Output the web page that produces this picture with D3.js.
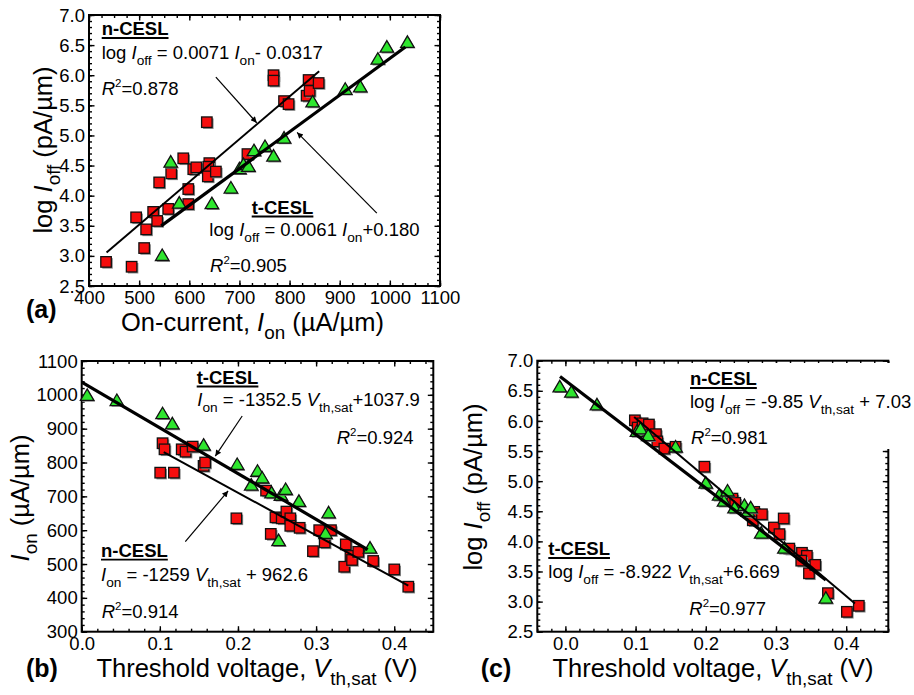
<!DOCTYPE html>
<html>
<head>
<meta charset="utf-8">
<script src="https://cdn.jsdelivr.net/npm/d3@7"></script>
<style>
  html, body { margin: 0; padding: 0; background: #fff; }
  svg { display: block; }
  text { font-family: "Liberation Sans", Arial, Helvetica, sans-serif; fill: #000; white-space: pre; }
</style>
</head>
<body>
<svg id="chart" width="914" height="695"></svg>
<script>
// ---------------- DATA ----------------
// Panel (a): On-current (uA/um) vs log Ioff (pA/um)
const aNX = [434,485,494,514,510,528,536,540,558,564,588,598,598,608,614,635,640,638,637,653,716,768,768,789,798,834,838,840,858];
const aNY = [2.90,2.82,3.64,3.44,3.13,3.73,3.58,4.22,3.78,4.37,4.62,4.11,3.86,4.44,4.47,5.22,4.54,4.48,4.32,4.40,4.69,6.00,5.91,5.57,5.52,5.66,5.92,5.74,5.87];
const aTX = [546,563,580,645,683,700,708,718,729,751,768,789,846,911,941,976,994,1035];
const aTY = [3.00,4.55,3.87,3.86,4.12,4.44,4.51,4.48,4.74,4.81,4.65,4.95,5.55,5.76,5.80,6.26,6.46,6.54];

// Panel (b): Vth,sat (V) vs Ion (uA/um)
const bNX = [0.1035,0.106,0.1005,0.118,0.128,0.133,0.142,0.156,0.158,0.198,0.236,0.242,0.248,0.256,0.262,0.267,0.267,0.279,0.296,0.304,0.311,0.319,0.336,0.338,0.344,0.346,0.354,0.373,0.400,0.418];
const bNY = [857,839,770,770,839,832,847,790,800,635,717,589,638,635,655,635,613,607,538,600,564,600,492,558,524,512,536,509,484,433];
const bTX = [0.007,0.045,0.1035,0.116,0.156,0.199,0.217,0.225,0.231,0.243,0.255,0.261,0.278,0.252,0.316,0.312,0.369];
const bTY = [997,982,943,913,850,793,732,773,753,709,702,719,684,568,650,589,546];

// Panel (c): Vth,sat (V) vs log Ioff (pA/um)
const cNX = [0.099,0.103,0.110,0.119,0.129,0.131,0.141,0.157,0.198,0.238,0.242,0.267,0.269,0.280,0.297,0.305,0.311,0.319,0.337,0.344,0.336,0.347,0.356,0.374,0.401,0.418];
const cNY = [6.01,5.89,5.96,5.94,5.78,5.66,5.54,5.57,5.24,4.71,4.64,4.35,4.49,4.45,4.23,4.12,4.38,3.88,3.81,3.76,3.68,3.47,3.61,3.14,2.83,2.93];
const cTX = [-0.008,0.0086,0.045,0.102,0.107,0.118,0.157,0.200,0.219,0.226,0.231,0.241,0.255,0.260,0.264,0.279,0.312,0.371];
const cTY = [6.56,6.47,6.26,5.82,5.86,5.75,5.56,4.96,4.76,4.66,4.83,4.55,4.59,4.49,4.55,4.13,3.88,3.05];

// Linear fits: [slope, intercept, xStart, xEnd]
const aFitN = [0.0071, -0.0317, 435, 859];
const aFitT = [0.0061, 0.180, 544, 1031];
const bFitN = [-1259, 962.6, 0.105, 0.418];
const bFitT = [-1352.5, 1037.9, 0.0, 0.366];
const cFitN = [-9.85, 7.03, 0.098, 0.4125];
const cFitT = [-8.922, 6.669, -0.0076, 0.371];

// Axis ticks
const aXTicks = [400,500,600,700,800,900,1000,1100];
const aYTicks = [2.5,3.0,3.5,4.0,4.5,5.0,5.5,6.0,6.5,7.0];
const bXTicks = [0.0,0.1,0.2,0.3,0.4];
const bYTicks = [300,400,500,600,700,800,900,1000,1100];
const cXTicks = [0.0,0.1,0.2,0.3,0.4];
const cYTicks = [2.5,3.0,3.5,4.0,4.5,5.0,5.5,6.0,6.5,7.0];

// Arrow annotations in data units: [x1, y1, x2, y2]
const aArrows = [[653,5.97,734.5,5.21],[974,3.71,815,5.05]];
const bArrows = [[0.2054,937.5,0.171,819],[0.1326,566,0.1874,716]];

// ---------------- DRAWING ----------------
const svg = d3.select("#chart");
svg.append("rect").attr("width",914).attr("height",695).attr("fill","#fff");

const defs = svg.append("defs");
defs.append("marker").attr("id","ah").attr("viewBox","0 0 10 10")
  .attr("refX",10).attr("refY",5).attr("markerWidth",9).attr("markerHeight",6)
  .attr("markerUnits","userSpaceOnUse").attr("orient","auto")
  .append("path").attr("d","M0,0 L10,5 L0,10 z").attr("fill","#000");

const RED = "#f50d0d", GREEN = "#2ee62e";

function range(a,b,s){ const out=[]; const n=Math.round((b-a)/s); for(let i=0;i<=n;i++) out.push(+(a+i*s).toFixed(6)); return out; }

function parse(s){
  const out=[]; const re=/(\*[^*]+\*|_\{[^}]+\}|\^\{[^}]+\})/;
  s.split(re).forEach(tok=>{
    if(!tok) return;
    if(tok[0]==='*') out.push({t:tok.slice(1,-1),it:true});
    else if(tok[0]==='_' && tok[1]==='{') out.push({t:tok.slice(2,-1),sub:true});
    else if(tok[0]==='^' && tok[1]==='{') out.push({t:tok.slice(2,-1),sup:true});
    else out.push({t:tok});
  });
  return out;
}

function rich(g, x, y, str, size, opts={}){
  const t = g.append("text").attr("x",x).attr("y",y).attr("font-size",size);
  if (opts.bold) t.attr("font-weight","bold");
  if (opts.anchor) t.attr("text-anchor",opts.anchor);
  if (opts.rotate) t.attr("transform",`rotate(-90,${x},${y})`);
  let cur = 0;
  parse(str).forEach(p=>{
    const ts = t.append("tspan").text(p.t);
    let target = 0;
    if (p.sub){ ts.attr("font-size",size*0.74); target = size*0.33; }
    else if (p.sup){ ts.attr("font-size",size*0.62); target = -size*0.42; }
    if (p.it) ts.attr("font-style","italic");
    if (target-cur !== 0) ts.attr("dy", target-cur);
    cur = target;
  });
  return t;
}

function underlinedBold(g, x, y, str, size){
  const t = g.append("text").attr("x",x).attr("y",y).attr("font-size",size).attr("font-weight","bold").text(str);
  const w = t.node().getComputedTextLength();
  g.append("line").attr("x1",x).attr("x2",x+w).attr("y1",y+3).attr("y2",y+3)
    .attr("stroke","#000").attr("stroke-width",1.8);
}

function panel(cfg){
  const g = svg.append("g");
  const x = d3.scaleLinear().domain(cfg.xDom).range(cfg.xRange);
  const y = d3.scaleLinear().domain(cfg.yDom).range(cfg.yRange);
  const [L,R] = cfg.xRange, [B,T] = cfg.yRange;
  const MAJ = 5.5, MIN = 3;
  const style = sel => { sel.select(".domain").remove(); sel.selectAll("line").attr("stroke","#000").attr("stroke-width",1.4); };
  // minor ticks
  g.append("g").attr("transform",`translate(0,${B})`).call(d3.axisBottom(x).tickValues(cfg.xMinor).tickSize(-MIN).tickFormat("")).call(style);
  g.append("g").attr("transform",`translate(0,${T})`).call(d3.axisTop(x).tickValues(cfg.xMinor).tickSize(-MIN).tickFormat("")).call(style);
  g.append("g").attr("transform",`translate(${L},0)`).call(d3.axisLeft(y).tickValues(cfg.yMinor).tickSize(-MIN).tickFormat("")).call(style);
  g.append("g").attr("transform",`translate(${R},0)`).call(d3.axisRight(y).tickValues(cfg.yMinor).tickSize(-MIN).tickFormat("")).call(style);
  // major ticks
  const xb = g.append("g").attr("transform",`translate(0,${B})`).call(d3.axisBottom(x).tickValues(cfg.xTicks).tickSize(-MAJ).tickPadding(7).tickFormat(cfg.xFmt)).call(style);
  g.append("g").attr("transform",`translate(0,${T})`).call(d3.axisTop(x).tickValues(cfg.xTicks).tickSize(-MAJ).tickFormat("")).call(style);
  const yl = g.append("g").attr("transform",`translate(${L},0)`).call(d3.axisLeft(y).tickValues(cfg.yTicks).tickSize(-MAJ).tickPadding(4).tickFormat(cfg.yFmt)).call(style);
  g.append("g").attr("transform",`translate(${R},0)`).call(d3.axisRight(y).tickValues(cfg.yTicks).tickSize(-MAJ).tickFormat("")).call(style);
  [xb,yl].forEach(a=>a.selectAll("text").attr("font-size",18.5).attr("font-family",null).attr("fill","#000"));
  xb.selectAll("text").attr("dy","0.62em");
  yl.selectAll("text").attr("dy","0.33em");
  // frame
  g.append("rect").attr("x",L).attr("y",T).attr("width",R-L).attr("height",B-T)
    .attr("fill","none").attr("stroke","#000").attr("stroke-width",2);

  // markers: squares (n-CESL)
  const sq = 10.5;
  const pts = g.append("g");
  cfg.nX.forEach((v,i)=>{
    const cx=x(v), cy=y(cfg.nY[i]);
    pts.append("rect").attr("x",cx-sq/2+1.5).attr("y",cy-sq/2+1.5).attr("width",sq).attr("height",sq).attr("fill","#8a8a8a");
    pts.append("rect").attr("x",cx-sq/2).attr("y",cy-sq/2).attr("width",sq).attr("height",sq)
      .attr("fill",RED).attr("stroke","#111").attr("stroke-width",1.3);
  });
  // triangles (t-CESL)
  const tw=13.5, th=11.5;
  cfg.tX.forEach((v,i)=>{
    const cx=x(v), cy=y(cfg.tY[i]);
    const d = `M${cx},${cy-th*0.6} L${cx+tw/2},${cy+th*0.4} L${cx-tw/2},${cy+th*0.4} Z`;
    pts.append("path").attr("d",d).attr("transform","translate(1.3,1.3)").attr("fill","#8a8a8a");
    pts.append("path").attr("d",d).attr("fill",GREEN).attr("stroke","#111").attr("stroke-width",1.3).attr("stroke-linejoin","miter");
  });

  // fit lines
  const fit = (f,w)=>{
    g.append("line").attr("x1",x(f[2])).attr("y1",y(f[0]*f[2]+f[1]))
      .attr("x2",x(f[3])).attr("y2",y(f[0]*f[3]+f[1]))
      .attr("stroke","#000").attr("stroke-width",w).attr("stroke-linecap","butt");
  };
  fit(cfg.fitN, 2.0);
  fit(cfg.fitT, 3.2);

  // arrows
  (cfg.arrows||[]).forEach(a=>{
    g.append("line").attr("x1",x(a[0])).attr("y1",y(a[1])).attr("x2",x(a[2])).attr("y2",y(a[3]))
      .attr("stroke","#000").attr("stroke-width",1.2).attr("marker-end","url(#ah)");
  });
  return g;
}

// Panel (a)
const gA = panel({
  xDom:[400,1100], xRange:[89,440], yDom:[2.5,7.0], yRange:[286,15],
  xTicks:aXTicks, xMinor:range(400,1100,25), yTicks:aYTicks, yMinor:range(2.5,7.0,0.1),
  xFmt:d3.format("d"), yFmt:d3.format(".1f"),
  nX:aNX, nY:aNY, tX:aTX, tY:aTY, fitN:aFitN, fitT:aFitT, arrows:aArrows
});
// Panel (b)
const gB = panel({
  xDom:[0,0.45], xRange:[81.7,433.3], yDom:[300,1100], yRange:[631.7,361],
  xTicks:bXTicks, xMinor:range(0,0.44,0.02), yTicks:bYTicks, yMinor:range(300,1100,20),
  xFmt:d3.format(".1f"), yFmt:d3.format("d"),
  nX:bNX, nY:bNY, tX:bTX, tY:bTY, fitN:bFitN, fitT:bFitT, arrows:bArrows
});
// Panel (c)
const gC = panel({
  xDom:[-0.04,0.46], xRange:[537.3,888.3], yDom:[2.5,7.0], yRange:[631.7,360.7],
  xTicks:cXTicks, xMinor:range(-0.04,0.46,0.02), yTicks:cYTicks, yMinor:range(2.5,7.0,0.1),
  xFmt:d3.format(".1f"), yFmt:d3.format(".1f"),
  nX:cNX, nY:cNY, tX:cTX, tY:cTY, fitN:cFitN, fitT:cFitT, arrows:[]
});

const ann = svg.append("g");
const FS = 18.5;
// (a) annotations
underlinedBold(ann, 101.7, 35, "n-CESL", FS);
rich(ann, 101.7, 58.5, "log *I*_{off} = 0.0071 *I*_{on}- 0.0317", FS);
rich(ann, 101.7, 95, "*R*^{2}=0.878", FS);
underlinedBold(ann, 251.7, 213.5, "t-CESL", FS);
rich(ann, 209.3, 235.5, "log *I*_{off} = 0.0061 *I*_{on}+0.180", FS);
rich(ann, 210, 272, "*R*^{2}=0.905", FS);

// (b) annotations
underlinedBold(ann, 196.7, 383.5, "t-CESL", FS);
rich(ann, 197.3, 406, "*I*_{on} = -1352.5 *V*_{th,sat}+1037.9", FS);
rich(ann, 336.7, 443.5, "*R*^{2}=0.924", FS);
underlinedBold(ann, 101, 556.7, "n-CESL", FS);
rich(ann, 101, 580.7, "*I*_{on} = -1259 *V*_{th,sat} + 962.6", FS);
rich(ann, 101.7, 617.5, "*R*^{2}=0.914", FS);

// (c) annotations (white backing hides the frame where the text overruns it)
ann.append("rect").attr("x",686).attr("y",363).attr("width",228).attr("height",86).attr("fill","#fff");
underlinedBold(ann, 690, 385, "n-CESL", FS);
rich(ann, 690, 407.5, "log *I*_{off} = -9.85 *V*_{th,sat} + 7.03", FS);
rich(ann, 691, 444, "*R*^{2}=0.981", FS);
underlinedBold(ann, 548.3, 555, "t-CESL", FS);
rich(ann, 548.3, 578.3, "log *I*_{off} = -8.922 *V*_{th,sat}+6.669", FS);
rich(ann, 689.3, 615, "*R*^{2}=0.977", FS);

// Axis titles
const TS = 25.5;
rich(ann, 252.5, 331, "On-current, *I*_{on} (µA/µm)", TS, {anchor:"middle"});
rich(ann, 52, 150, "log *I*_{off} (pA/µm)", TS, {anchor:"middle", rotate:true});
rich(ann, 257, 677, "Threshold voltage, *V*_{th,sat} (V)", TS, {anchor:"middle"});
rich(ann, 29, 498, "*I*_{on} (µA/µm)", TS, {anchor:"middle", rotate:true});
rich(ann, 713, 676.5, "Threshold voltage, *V*_{th,sat} (V)", TS, {anchor:"middle"});
rich(ann, 482, 487, "log *I*_{off} (pA/µm)", TS, {anchor:"middle", rotate:true});

// Panel letters
ann.append("text").attr("x",26).attr("y",318).attr("font-size",25).attr("font-weight","bold").text("(a)");
ann.append("text").attr("x",26).attr("y",676.5).attr("font-size",25).attr("font-weight","bold").text("(b)");
ann.append("text").attr("x",480.7).attr("y",676.5).attr("font-size",25).attr("font-weight","bold").text("(c)");
</script>
</body>
</html>
